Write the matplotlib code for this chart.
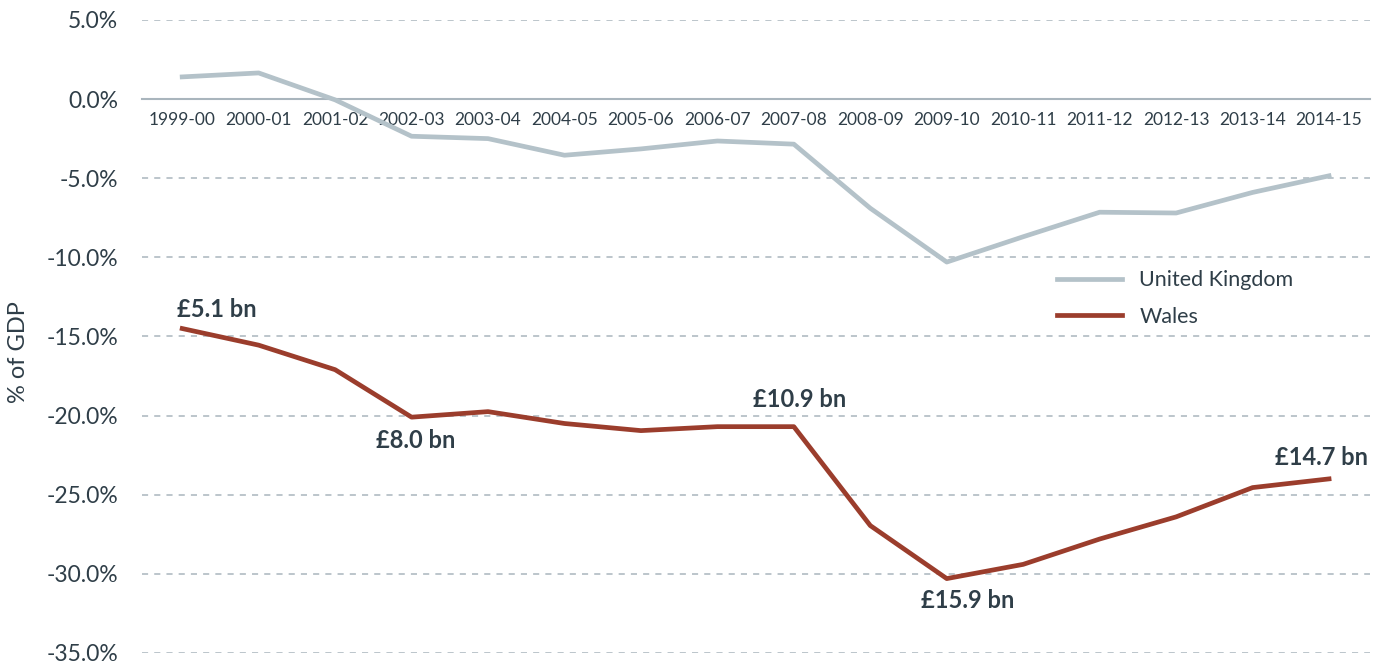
import numpy as np
import matplotlib
matplotlib.use("Agg")
import matplotlib.pyplot as plt

years = ["1999-00", "2000-01", "2001-02", "2002-03", "2003-04", "2004-05",
         "2005-06", "2006-07", "2007-08", "2008-09", "2009-10", "2010-11",
         "2011-12", "2012-13", "2013-14", "2014-15"]
uk = [1.4, 1.65, -0.05, -2.35, -2.5, -3.55, -3.15, -2.65, -2.85, -6.9,
      -10.3, -8.7, -7.15, -7.2, -5.9, -4.85]
wales = [-14.5, -15.55, -17.1, -20.1, -19.75, -20.5, -20.95, -20.7, -20.7,
         -26.95, -30.3, -29.4, -27.8, -26.4, -24.55, -24.0]

# spending gap labels on the Wales line: point index and text
note_idx = [0, 3, 8, 10, 15]
note_txt = ["£5.1 bn", "£8.0 bn", "£10.9 bn", "£15.9 bn", "£14.7 bn"]
note_off = [(35, 19), (4, -23), (6, 27), (21, -22), (-8, 21)]  # pixels

txt = "#2f3e48"
grid_col = "#a9b5bd"
uk_col = "#b4c2c9"
wales_col = "#9b3d2c"

plt.rcParams['font.family'] = ['Lato', 'DejaVu Sans']

fig = plt.figure(figsize=(13.89, 6.64), dpi=100)
ax = fig.add_axes([0.102, 0.0166, 0.884, 0.9534])

# zero line doubles as the x axis (set before ticks: it resets them)
for sp in ["top", "right", "left"]:
    ax.spines[sp].set_visible(False)
ax.spines["bottom"].set_position(("data", 0))
ax.spines["bottom"].set_color(grid_col)
ax.spines["bottom"].set_linewidth(1.5)
ax.spines["bottom"].set_zorder(1)

x = np.arange(len(years))
for v in range(-35, 6, 5):
    if v != 0:
        ax.axhline(v, color=grid_col, lw=1.1, ls=(0, (4, 4)), zorder=0)

ax.plot(x, uk, color=uk_col, lw=3.4, label="United Kingdom", zorder=3)
ax.plot(x, wales, color=wales_col, lw=3.4, label="Wales", zorder=3)

for i, s, off in zip(note_idx, note_txt, note_off):
    ax.annotate(s, (i, wales[i]), xytext=off, textcoords="offset pixels",
                ha="center", va="center", fontsize=17, fontweight="bold",
                color=txt)

ax.set_xlim(-0.53, 15.53)
ax.set_ylim(-35, 5)
ax.set_xticks(x)
ax.set_xticklabels(years)
ax.set_yticks(range(-35, 6, 5))
ax.set_yticklabels([f"{v:.1f}%" for v in range(-35, 6, 5)])
ax.tick_params(length=0, labelcolor=txt)
ax.tick_params(axis="x", pad=9, labelsize=12.5)
ax.tick_params(axis="y", pad=17, labelsize=16.5)

ax.set_ylabel("% of GDP", fontsize=17, color=txt)
ax.yaxis.set_label_coords(-0.092, 0.475)

leg = ax.legend(loc="upper left", bbox_to_anchor=(0.73, 0.635), frameon=False,
                fontsize=15.5, handlelength=3.0, labelspacing=0.75,
                handletextpad=0.8)
for t in leg.get_texts():
    t.set_color(txt)

fig.savefig("out.png", dpi=100)
